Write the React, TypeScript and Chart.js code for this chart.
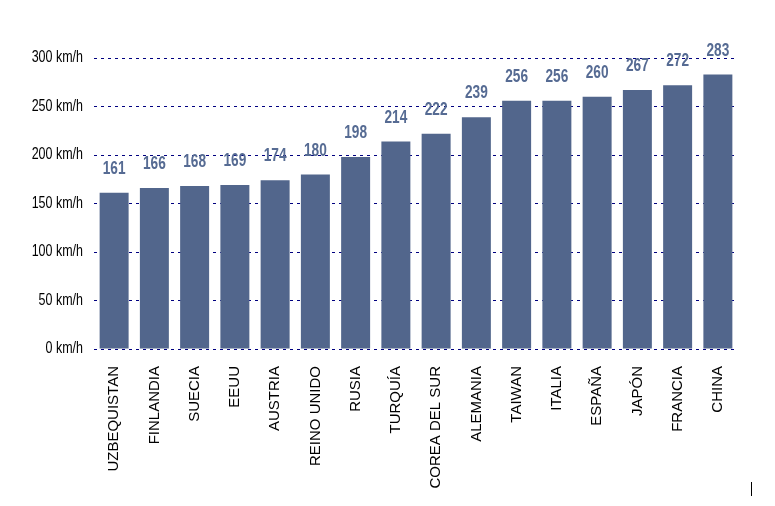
import React, { useEffect, useRef } from "react";
import { Chart, registerables, Plugin } from "chart.js";

Chart.register(...registerables);

const countries = [
  "UZBEQUISTAN",
  "FINLANDIA",
  "SUECIA",
  "EEUU",
  "AUSTRIA",
  "REINO UNIDO",
  "RUSIA",
  "TURQUÍA",
  "COREA DEL SUR",
  "ALEMANIA",
  "TAIWAN",
  "ITALIA",
  "ESPAÑA",
  "JAPÓN",
  "FRANCIA",
  "CHINA"
];
const speeds = [161, 166, 168, 169, 174, 180, 198, 214, 222, 239, 256, 256, 260, 267, 272, 283];
const yTicks = [0, 50, 100, 150, 200, 250, 300];

const font = "'Liberation Sans', Arial, sans-serif";

// the original uses a condensed font, squeeze text horizontally to get close
function narrowText(ctx: CanvasRenderingContext2D, text: string, x: number, y: number, sx: number) {
  ctx.save();
  ctx.translate(x, y);
  ctx.scale(sx, 1);
  ctx.fillText(text, 0, 0);
  ctx.restore();
}

// value labels above each bar
const valueLabels: Plugin<"bar"> = {
  id: "valueLabels",
  afterDatasetsDraw(chart) {
    const ctx = chart.ctx;
    const meta = chart.getDatasetMeta(0);
    ctx.save();
    ctx.font = "bold 19px " + font;
    ctx.fillStyle = "#566b93";
    ctx.textAlign = "center";
    ctx.textBaseline = "middle";
    meta.data.forEach((bar, i) => {
      narrowText(ctx, String(speeds[i]), bar.x, bar.y - 24, 0.72);
    });
    ctx.restore();
  }
};

// y tick labels drawn by hand so they can be condensed
const yLabels: Plugin<"bar"> = {
  id: "yLabels",
  afterDraw(chart) {
    const ctx = chart.ctx;
    const y = chart.scales.y;
    ctx.save();
    ctx.font = "16px " + font;
    ctx.fillStyle = "#000";
    ctx.textAlign = "right";
    ctx.textBaseline = "middle";
    yTicks.forEach((v) => {
      narrowText(ctx, v + " km/h", chart.chartArea.left - 11, y.getPixelForValue(v), 0.78);
    });
    ctx.restore();
  }
};

// small stray stroke in the lower right corner of the original
const cornerMark: Plugin<"bar"> = {
  id: "cornerMark",
  afterDraw(chart) {
    const ctx = chart.ctx;
    ctx.save();
    ctx.strokeStyle = "#000";
    ctx.lineWidth = 1;
    ctx.beginPath();
    ctx.moveTo(751.5, 482);
    ctx.lineTo(751.5, 496);
    ctx.stroke();
    ctx.restore();
  }
};

const App: React.FC = () => {
  const chartRef = useRef<HTMLCanvasElement>(null);

  useEffect(() => {
    if (!chartRef.current) return;
    const myChart = new Chart(chartRef.current, {
      type: "bar",
      data: {
        labels: countries,
        datasets: [
          {
            data: speeds,
            backgroundColor: "#52668c",
            barPercentage: 0.72,
            categoryPercentage: 1
          }
        ]
      },
      options: {
        animation: false,
        responsive: false,
        maintainAspectRatio: false,
        layout: { padding: { top: 58, right: 37, bottom: 0, left: 0 } },
        plugins: {
          legend: { display: false },
          tooltip: { enabled: false }
        },
        scales: {
          x: {
            grid: { display: false },
            border: { display: false },
            ticks: {
              color: "#000",
              font: { family: font, size: 15 },
              minRotation: 90,
              maxRotation: 90,
              autoSkip: false,
              padding: 9
            },
            afterFit: (scale) => {
              scale.height = 157;
            }
          },
          y: {
            min: 0,
            max: 300,
            afterBuildTicks: (scale) => {
              scale.ticks = yTicks.map((v) => ({ value: v }));
            },
            grid: {
              color: "#000080",
              lineWidth: 1,
              drawTicks: false
            },
            border: { display: false, dash: [3, 4] },
            ticks: { display: false },
            afterFit: (scale) => {
              scale.width = 94;
            }
          }
        }
      },
      plugins: [valueLabels, yLabels, cornerMark]
    });

    return () => {
      myChart.destroy();
    };
  }, []);

  return (
    <div style={{ position: "absolute", left: 0, top: 0, width: 775, height: 506, background: "#fff" }}>
      <canvas ref={chartRef} width={775} height={506} style={{ width: 775, height: 506 }} />
    </div>
  );
};

export default App;
